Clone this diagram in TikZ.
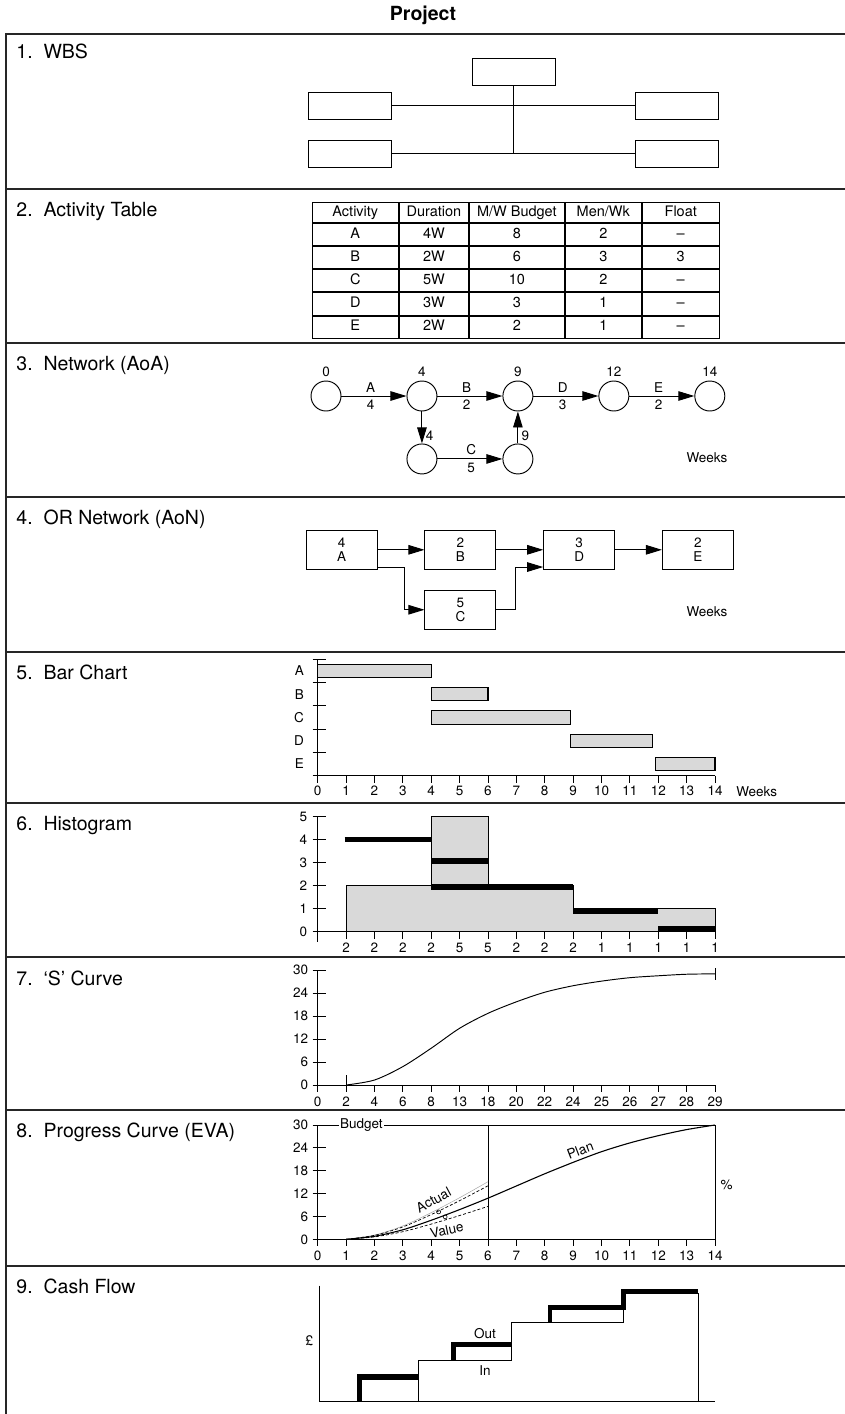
\documentclass[tikz,border=0pt]{standalone}
\usepackage{fontspec}
\setmainfont{TeX Gyre Heros}
\usetikzlibrary{arrows.meta,positioning,matrix}

\begin{document}
\begin{tikzpicture}[
    x=1pt, y=-1pt,
    >={Triangle[length=16pt,width=9.5pt]},
    line width=0.95pt,
    font=\fontsize{13.5}{14}\selectfont,
    frame/.style={line width=1.6pt, black!85},
    heading/.style={anchor=base west, inner sep=0pt, font=\fontsize{19.5}{23}\selectfont},
    wbsbox/.style={draw, minimum width=83pt, minimum height=27pt, inner sep=0pt},
    tabcell/.style={draw, inner sep=0pt, outer sep=0pt, minimum height=22.2pt,
        text height=10.5pt, text depth=3pt, anchor=center, font=\fontsize{14.5}{16}\selectfont},
    event/.style={draw, circle, minimum size=30pt, inner sep=0pt},
    task/.style={draw, minimum width=71pt, minimum height=38.5pt, inner sep=0pt, align=center},
    bar/.style={draw, fill=gray!30, line width=1.1pt},
    load/.style={line width=5.5pt},
    actual/.style={gray!70, line width=0.5pt},
    evdash/.style={dash pattern=on 3pt off 2pt, line width=0.7pt},
    outflow/.style={line width=4.5pt},
]

\useasboundingbox (0,0) rectangle (845,1414);

\node[font=\bfseries\fontsize{19.5}{22}\selectfont] (title) at (423,15) {Project};

% frame and section rules
\draw[frame] (6,1414) -- (6,34) -- (845,34);
\foreach \y in {189,343,497,652,803,957,1110,1266}
    \draw[frame] (6,\y) -- (845,\y);

\foreach \n/\y/\t in {1/58/WBS, 2/216/Activity Table, 3/370/Network (AoA),
        4/524/OR Network (AoN), 5/679/Bar Chart, 6/830/Histogram,
        7/985/‘S’ Curve, 8/1137/Progress Curve (EVA), 9/1293/Cash Flow}
    \node[heading] (h\n) at (16,\y) {\n.\ \ \t};

% 1. WBS
\node[wbsbox] (root) at (513.5,72) {};
\node[wbsbox] (wl1) at (350.2,105.8) {};
\node[wbsbox] (wl2) at (350.2,153.7) {};
\node[wbsbox] (wr1) at (677.3,105.8) {};
\node[wbsbox] (wr2) at (677.3,153.7) {};
\draw (root.south) -- (root.south |- wl2.east);
\draw (wl1.east) -- (wr1.west);
\draw (wl2.east) -- (wr2.west);

% 2. Activity table
\matrix (acttab) [matrix of nodes, anchor=north west, inner sep=0pt, outer sep=0pt,
    nodes={tabcell},
    row 1/.style={nodes={minimum height=20pt}},
    column 1/.style={nodes={minimum width=86.3pt}},
    column 2/.style={nodes={minimum width=69pt}},
    column 3/.style={nodes={minimum width=95pt}},
    column 4/.style={nodes={minimum width=76pt}},
    column 5/.style={nodes={minimum width=77pt}}] at (311.7,202) {
    Activity & Duration & M/W Budget & Men/Wk & Float \\
    A & 4W & 8  & 2 & -- \\
    B & 2W & 6  & 3 & 3 \\
    C & 5W & 10 & 2 & -- \\
    D & 3W & 3  & 1 & -- \\
    E & 2W & 2  & 1 & -- \\
};

% 3. Network (AoA)
\node[event, label={[name=t0]above:0}] (e0) at (326,396) {};
\node[event, right=65pt of e0, label={[name=t4]above:4}] (e4) {};
\node[event, right=65pt of e4, label={[name=t9]above:9}] (e9) {};
\node[event, right=65pt of e9, label={[name=t12]above:12}] (e12) {};
\node[event, right=65pt of e12, label={[name=t14]above:14}] (e14) {};
\node[event, below=32pt of e4] (c4) {};
\node[event, below=32pt of e9] (c9) {};
\foreach \a/\b/\n/\d in {e0/e4/A/4, e4/e9/B/2, e9/e12/D/3, e12/e14/E/2}
    \draw[->] (\a) -- node[above, pos=.45] (act\n) {\n} node[below, pos=.45] (dur\n) {\d} (\b);
\draw[->] (c4) -- node[above, pos=.52] (actC) {C} node[below, pos=.52] (durC) {5} (c9);
\draw[->] (e4) -- node[right, pos=.75] (s4) {4} (c4);
\draw[->] (c9) -- node[right, pos=.25] (s9) {9} (e9);
\node (wk3) at (707,458) {Weeks};

% 4. OR network (AoN)
\node[task] (tA) at (341.7,549.8) {4\\A};
\node[task, right=46.8pt of tA] (tB) {2\\B};
\node[task, right=46.8pt of tB] (tD) {3\\D};
\node[task, right=46.8pt of tD] (tE) {2\\E};
\node[task, below=20.5pt of tB] (tC) {5\\C};
\draw[->] (tA) -- (tB);
\draw[->] (tB) -- (tD);
\draw[->] (tD) -- (tE);
\draw[->] ([yshift=2pt]tA.south east) -- ++(27,0) |- (tC.west);
\draw[->] (tC.east) -- ++(19,0) |- ([yshift=2.5pt]tD.south west);
\node (wk4) at (707,611.7) {Weeks};

% 5. Bar chart
\begin{scope}[shift={(317.7,775.7)}, x=28.38pt, y=23.3pt]
    \foreach \n/\s/\e/\r in {A/0/4/4.5, B/4/6/3.5, C/4/8.9/2.5, D/8.9/11.8/1.5, E/11.9/14/0.5} {
        \draw[bar] (\s,\r-0.285) rectangle (\e,\r+0.285);
        \node[left] (row\n) at (-0.35,\r) {\n};
    }
    \draw (0,0) -- (0,4.97);
    \draw (0,0) -- (14,0);
    \foreach \j in {0,...,5}
        \draw (0,\j) ++(-5pt,0pt) -- ++(13pt,0pt);
    \foreach \i in {0,...,14}
        \draw (\i,0) -- ++(0pt,-7pt) node[below, inner sep=3pt] (bx\i) {\i};
    \node (wk5) at (15.47,-0.69) {Weeks};
\end{scope}

% 6. Histogram
\begin{scope}[shift={(317.7,931.7)}, x=28.38pt, y=23pt]
    \filldraw[fill=gray!30, line width=0.9pt] (1,0) -- (1,2) -- (4,2) -- (4,5) -- (6,5) -- (6,2)
        -- (9,2) -- (9,1) -- (14,1) -- (14,0) -- cycle;
    \draw[load] (0.95,4) -- (4,4);
    \draw[load] (4,3.07) -- (6,3.07);
    \draw[load] (4,1.94) -- (9,1.94);
    \draw[load] (9,0.9) -- (12,0.9);
    \draw[load] (12,0.13) -- (14,0.13);
    \draw (0,0) -- (0,5);
    \draw (0,0) -- (14,0);
    \foreach \j in {0,...,5}
        \draw (0,\j) ++(-5pt,0pt) node[left, inner sep=5pt] (hy\j) {\j} -- ++(13pt,0pt);
    \draw (0,0) -- ++(0pt,-10pt);
    \foreach \v [count=\i] in {2,2,2,2,5,5,2,2,2,1,1,1,1,1}
        \draw (\i,0) -- ++(0pt,-7pt) node[below, inner sep=4pt] (hx\i) {\v};
\end{scope}

% 7. S curve
\begin{scope}[shift={(317.7,1085)}, x=28.38pt, y=3.833pt]
    \draw (0,0) -- (0,30);
    \draw (0,0) -- (14,0);
    \foreach \j in {0,6,...,30}
        \draw (0,\j) ++(-5pt,0pt) node[left, inner sep=4pt] (sy\j) {\j} -- ++(13pt,0pt);
    \foreach \lab [count=\i from 0] in {0,2,4,6,8,13,18,20,22,24,25,26,27,28,29}
        \draw (\i,0) -- ++(0pt,-7pt) node[below, inner sep=4pt] (sx\i) {\lab};
    \draw (1,-1.2) -- (1,2.7);
    \draw (14,27.4) -- (14,30.4);
    \draw plot[smooth] coordinates {(1,0) (2,1.3) (3,4.8) (4,9.6) (5,14.8) (6,18.7) (7,21.7)
        (8,24.2) (9,25.9) (10,27.1) (11,28) (12,28.5) (13,28.9) (14,29)};
\end{scope}

% 8. Progress curve (EVA)
\begin{scope}[shift={(317.7,1239.3)}, x=28.38pt, y=3.81pt]
    \draw (0,0) -- (0,30);
    \draw (0,0) -- (14,0);
    \foreach \j in {0,6,...,30}
        \draw (0,\j) ++(-5pt,0pt) node[left, inner sep=4pt] (ey\j) {\j} -- ++(13pt,0pt);
    \foreach \i in {0,...,14}
        \draw (\i,0) -- ++(0pt,-7pt) node[below, inner sep=4pt] (ex\i) {\i};
    \draw (0,30) -- node[pos=0.11, fill=white, inner sep=1pt] (budget) {Budget} (14,30);
    \draw (14,30) -- (14,0);
    \draw (6,30) -- (6,0);
    \foreach \f/\sty in {1.4/actual, 1.3/evdash, 0.8/evdash}
        \draw[\sty] plot[smooth] coordinates {(1,0) (2,{0.8*\f}) (3,{2.5*\f}) (4,{5*\f})
            (5,{7.8*\f}) (6,{10.8*\f})};
    \draw[line width=1.1pt] plot[smooth] coordinates {(1,0) (2,0.8) (3,2.5) (4,5) (5,7.8) (6,10.8)
        (7,14) (8,17.2) (9,20.2) (10,23) (11,25.3) (12,27.2) (13,28.8) (14,30)};
    \draw[line width=0.6pt] (4.26,7.2) circle (2pt);
    \draw[line width=0.6pt] (4.49,5.9) circle (2pt);
    \node[rotate=28] (actual) at (4.08,10.3) {Actual};
    \node[rotate=12] (value) at (4.55,2.4) {Value};
    \node[rotate=21] (plan) at (9.25,23.4) {Plan};
    \node (pct) at (14.41,14.25) {\%};
\end{scope}

% 9. Cash flow
\draw (319.3,1285.7) -- (319.3,1401) -- (715,1401);
\draw (319.3,1401) -| (418.3,1360.7) -| (511.7,1322.3) -| (623.3,1293) -| (698.3,1401);
\draw[line width=0.6pt] (361,1401) |- (418.3,1379);
\draw[outflow] (358.8,1401) |- (418.3,1376.5);
\draw[outflow] (453.3,1360.7) |- (511.7,1344.3);
\draw[outflow] (550,1322.3) |- (623.3,1307.7) |- (698.3,1291.7);
\node (out) at (485,1334) {Out};
\node (in) at (485,1371) {In};
\node (pound) at (309.3,1341) {£};

\end{tikzpicture}
\end{document}
